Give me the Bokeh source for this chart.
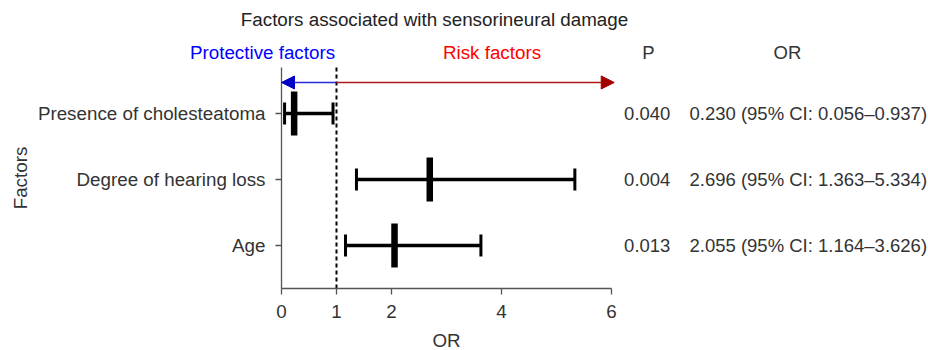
import math
from bokeh.plotting import figure
from bokeh.models import (ColumnDataSource, FixedTicker, Range1d, Arrow, NormalHead)
from bokeh.core.properties import value
from bokeh.embed import file_html
from bokeh.resources import INLINE

# ---- data ----
factors = ["Age", "Degree of hearing loss", "Presence of cholesteatoma"]
ypos = [1, 2, 3]
or_vals = [2.055, 2.696, 0.230]
ci_low = [1.164, 1.363, 0.056]
ci_high = [3.626, 5.334, 0.937]
p_vals = ["0.013", "0.004", "0.040"]
x_ticks = [0, 1, 2, 4, 6]
ref_or = 1
or_texts = [f"{o:.3f} (95% CI: {l:.3f}\u2013{h:.3f})" for o, l, h in zip(or_vals, ci_low, ci_high)]

# ---- layout (data-unit positions of panel parts) ----
X_MIN, X_MAX = -5.109, 11.764      # whole canvas
Y_MIN, Y_MAX = -0.591, 4.712
Y_LO, Y_HI = 0.348, 3.697          # plotting area (axis bounds)
X_LO, X_HI = 0, 6
ARROW_Y = 3.47
HEAD_Y = 3.924
TITLE_Y = 4.424
X_P = 6.65
X_ORTXT = 7.418

FONT = "Liberation Sans"
FS = "18.8px"
FS_TAB = "18.5px"
TXT = "#333333"

src = ColumnDataSource(dict(y=ypos, orv=or_vals, lo=ci_low, hi=ci_high, p=p_vals, ort=or_texts))

p = figure(width=928, height=350, x_range=Range1d(X_MIN, X_MAX), y_range=Range1d(Y_MIN, Y_MAX),
           output_backend="svg", toolbar_location=None,
           min_border=0, min_border_left=0, min_border_right=0, min_border_top=0, min_border_bottom=0)
p.outline_line_color = None
p.xgrid.visible = False
p.ygrid.visible = False
p.background_fill_color = "white"

# axes (fixed at the plotting area's edges)
for ax in (p.xaxis[0], p.yaxis[0]):
    ax.axis_line_color = "#555555"
    ax.axis_line_width = 1.3
    ax.major_tick_line_color = "#555555"
    ax.major_tick_line_width = 1.3
    ax.major_tick_out = 6
    ax.major_tick_in = 0
    ax.minor_tick_line_color = None
    ax.major_label_text_font = FONT
    ax.major_label_text_font_size = FS
    ax.major_label_text_color = TXT

p.xaxis.ticker = FixedTicker(ticks=x_ticks)
p.xaxis.bounds = (X_LO, X_HI)
p.xaxis.fixed_location = Y_LO
p.xaxis.major_label_standoff = 10
p.yaxis.ticker = FixedTicker(ticks=ypos)
p.yaxis.bounds = (Y_LO, Y_HI)
p.yaxis.fixed_location = X_LO
p.yaxis.major_label_overrides = {y: f for y, f in zip(ypos, factors)}
p.yaxis.major_label_standoff = 10

# reference line at OR = 1
p.segment(x0=ref_or, y0=Y_LO, x1=ref_or, y1=Y_HI, line_color="black",
          line_width=2, line_dash="4 3")

# direction arrows
p.add_layout(Arrow(x_start=ref_or, y_start=ARROW_Y, x_end=X_LO, y_end=ARROW_Y,
                   line_color="#2a2ad8", line_width=1.6,
                   end=NormalHead(size=13, fill_color="#0000c8", line_color="#0000c8")))
p.add_layout(Arrow(x_start=ref_or, y_start=ARROW_Y, x_end=X_HI + 0.05, y_end=ARROW_Y,
                   line_color="#b01818", line_width=1.6,
                   end=NormalHead(size=13, fill_color="#a00000", line_color="#a00000")))

# error bars
p.segment(x0="lo", y0="y", x1="hi", y1="y", source=src, line_color="black", line_width=3.5)
p.rect(x="lo", y="y", width=3, height=22, width_units="screen", height_units="screen",
       source=src, fill_color="black", line_color=None)
p.rect(x="hi", y="y", width=3, height=22, width_units="screen", height_units="screen",
       source=src, fill_color="black", line_color=None)
p.rect(x="orv", y="y", width=6.5, height=44, width_units="screen", height_units="screen",
       source=src, fill_color="black", line_color=None)

# table columns
p.text(x=X_P, y="y", text="p", source=src, text_align="center", text_baseline="middle",
       text_font=value(FONT), text_font_size=value(FS_TAB), text_color=TXT)
p.text(x=X_ORTXT, y="y", text="ort", source=src, text_align="left", text_baseline="middle",
       text_font=value(FONT), text_font_size=value(FS_TAB), text_color=TXT)

def lab(x, y, t, color=TXT, align="center", angle=0, size=FS):
    p.text(x=[x], y=[y], text=[t], text_align=align, text_baseline="middle", angle=angle,
           text_font=value(FONT), text_font_size=value(size), text_color=color)

lab(2.782, TITLE_Y, "Factors associated with sensorineural damage", color="#222222")
lab(-0.345, HEAD_Y, "Protective factors", color="#0000ff")
lab(3.827, HEAD_Y, "Risk factors", color="#ff0000")
lab(6.673, HEAD_Y, "P", size=FS_TAB)
lab(9.2, HEAD_Y, "OR", size=FS_TAB)
lab((X_LO + X_HI) / 2, -0.439, "OR")
lab(-4.745, (Y_LO + Y_HI) / 2, "Factors", angle=math.pi / 2)

open("out.html", "w").write(file_html(p, INLINE))
